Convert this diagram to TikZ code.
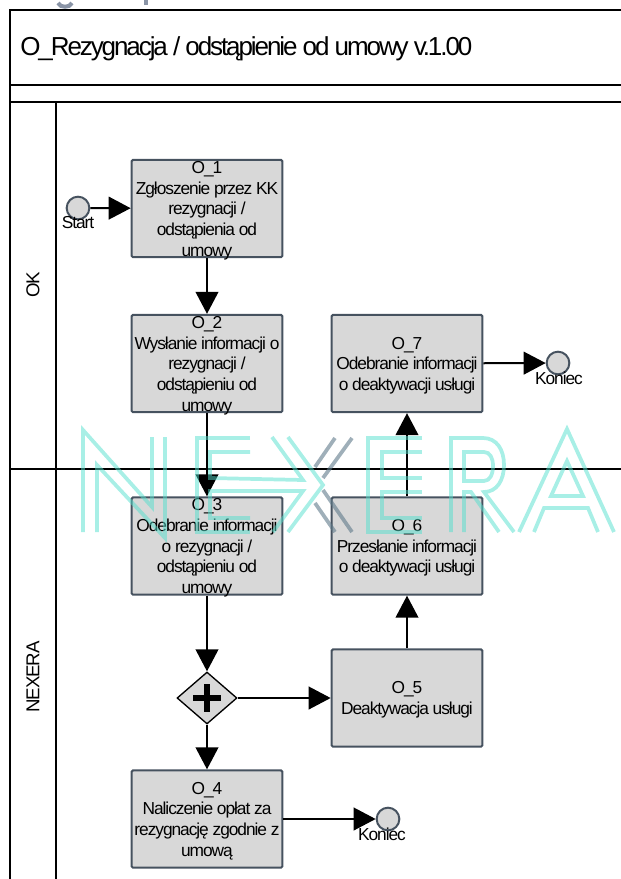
\documentclass[tikz,border=0pt]{standalone}
\usepackage{fontspec}
\setmainfont[LetterSpace=-6]{Liberation Sans}
\usetikzlibrary{arrows.meta,positioning,calc,shapes.geometric}
\definecolor{mFill}{HTML}{D8D8D8}
\definecolor{mEdge}{HTML}{46525F}
\definecolor{mWater}{HTML}{52DFCD}
\definecolor{mSlate}{HTML}{5F7A8A}
\definecolor{mHead}{HTML}{8A94A6}
\tikzset{
  taskbox/.style={draw=mEdge,fill=mFill,line width=1.5pt,rounded corners=1pt,minimum width=113pt,minimum height=73pt,inner sep=0pt},
  tasktext/.style={inner sep=0pt,yshift=-1.5pt,align=center,font=\fontsize{13}{15.5}\selectfont},
  eventdot/.style={circle,draw=mEdge,fill=mFill,line width=1.5pt,minimum size=17pt,inner sep=0pt},
  gatebox/.style={diamond,draw=black,fill=mFill,line width=1pt,minimum width=45pt,minimum height=39pt,inner sep=0pt},
  flow/.style={-{Triangle[length=16.5pt,width=17pt]},line width=1.5pt},
  evlabel/.style={inner sep=0pt,font=\fontsize{13}{14}\selectfont},
  lanelabel/.style={rotate=90,inner sep=0pt,font=\fontsize{14}{16}\selectfont},
  frameline/.style={line width=1.5pt},
  waterline/.style={mWater,opacity=0.5,line width=2.8pt},
  slateline/.style={mSlate,opacity=0.6,line width=2.8pt}
}
\begin{document}
\begin{tikzpicture}[x=0.75pt,y=-0.75pt,>=Stealth]
        \clip (0,0) rectangle (621,879);
        % heading cut off by the page
        \draw[mHead,line width=3pt] (58,3) .. controls (60,8) and (70,8) .. (72,3);
        \draw[mHead,line width=3pt] (146,0) -- (146,5);
        % pool and lanes
        \draw[frameline] (10,10) rectangle (640,900);
        \foreach \y in {85,102,469} \draw[frameline] (10,\y) -- (640,\y);
        \draw[frameline] (56,102) -- (56,900);
        \node[inner sep=0pt,anchor=west,font=\fontsize{19.5}{22}\selectfont\addfontfeature{LetterSpace=-8}] (title) at (20,49) {O\_Rezygnacja / odstąpienie od umowy v.1.00};
        \node[lanelabel] (laneok) at (33,285) {OK};
        \node[lanelabel] (lanenx) at (33,677) {NEXERA};
        % events
        \node[eventdot] (start) at (78,208) {};
        \node[eventdot] (endone) at (558,363) {};
        \node[eventdot] (endtwo) at (388,819) {};
        \node[evlabel] (startlab) at (78,223) {Start};
        \node[evlabel] (endonelab) at (559,378) {Koniec};
        \node[evlabel] (endtwolab) at (382,834) {Koniec};
        % tasks
        \node[taskbox,label={[tasktext]center:O\_1\\Zgłoszenie przez KK\\rezygnacji /\\odstąpienia od\\umowy}] (o1) at (207,208.5) {};
        \node[taskbox,label={[tasktext]center:O\_2\\Wysłanie informacji o\\rezygnacji /\\odstąpieniu od\\umowy}] (o2) at (207,363.5) {};
        \node[taskbox,label={[tasktext]center:O\_3\\Odebranie informacji\\o rezygnacji /\\odstąpieniu od\\umowy}] (o3) at (207,546) {};
        \node[taskbox,label={[tasktext]center:O\_4\\Naliczenie opłat za\\rezygnację zgodnie z\\umową}] (o4) at (207,819) {};
        \node[taskbox,label={[tasktext]center:O\_5\\Deaktywacja usługi}] (o5) at (407,698) {};
        \node[taskbox,label={[tasktext]center:O\_6\\Przesłanie informacji\\o deaktywacji usługi}] (o6) at (407,546) {};
        \node[taskbox,label={[tasktext]center:O\_7\\Odebranie informacji\\o deaktywacji usługi}] (o7) at (407,363.5) {};
        \node[gatebox] (gate) at (207,698) {};
        \draw[line width=5pt] ($(gate.center)+(-14,0)$) -- ($(gate.center)+(14,0)$);
        \draw[line width=5pt] ($(gate.center)+(0,-14)$) -- ($(gate.center)+(0,14)$);
        % flows
        \draw[flow] (start) -- (o1);
        \draw[flow] (o1) -- (o2);
        \draw[flow] (o2) -- (o3);
        \draw[flow] (o3) -- (gate);
        \draw[flow] (gate) -- (o4);
        \draw[flow] (gate) -- (o5);
        \draw[flow] (o5) -- (o6);
        \draw[flow] (o6) -- (o7);
        \draw[flow] (o7) -- (endone);
        \draw[flow] (o4) -- (endtwo);
        % watermark
        \draw[waterline] (83,532) -- (83,430) -- (152,507) -- (152,437);
        \draw[waterline] (97,532) -- (97,465) -- (165,538) -- (165,437);
        \draw[waterline] (250,438) -- (197,438) -- (197,532) -- (250,532);
        \draw[waterline] (250,452) -- (210,452) -- (210,478) -- (303,480) -- (272,437);
        \draw[waterline] (250,518) -- (210,518) -- (210,491) -- (303,491) -- (273,532);
        \draw[waterline] (288,437) -- (323,485) -- (288,532);
        \draw[slateline] (335,438) -- (315,467);
        \draw[slateline] (352,438) -- (323,478);
        \draw[slateline] (315,503) -- (335,532);
        \draw[slateline] (323,490) -- (352,532);
        \draw[waterline] (422,438) -- (368,438) -- (368,532) -- (422,532);
        \draw[waterline] (422,452) -- (382,452) -- (382,478) -- (422,478);
        \draw[waterline] (422,518) -- (382,518) -- (382,492) -- (422,492);
        \draw[waterline] (451,532) -- (451,438) -- (483,438) .. controls (497,438) and (504,450) .. (504,465) .. controls (504,480) and (497,492) .. (484,492) -- (514,532);
        \draw[waterline] (464,452) -- (484,452) .. controls (490,452) and (493,458) .. (493,466) .. controls (493,474) and (490,481) .. (484,481) -- (464,481) -- cycle;
        \draw[waterline] (464,532) -- (464,492) -- (471,492) -- (499,532);
        \draw[waterline] (519,532) -- (567,429) -- (614,532);
        \draw[waterline] (567,461) -- (551,496) -- (583,496) -- cycle;
        \draw[waterline] (534,532) -- (544,508) -- (588,508) -- (598,532);
      \end{tikzpicture}
\end{document}
